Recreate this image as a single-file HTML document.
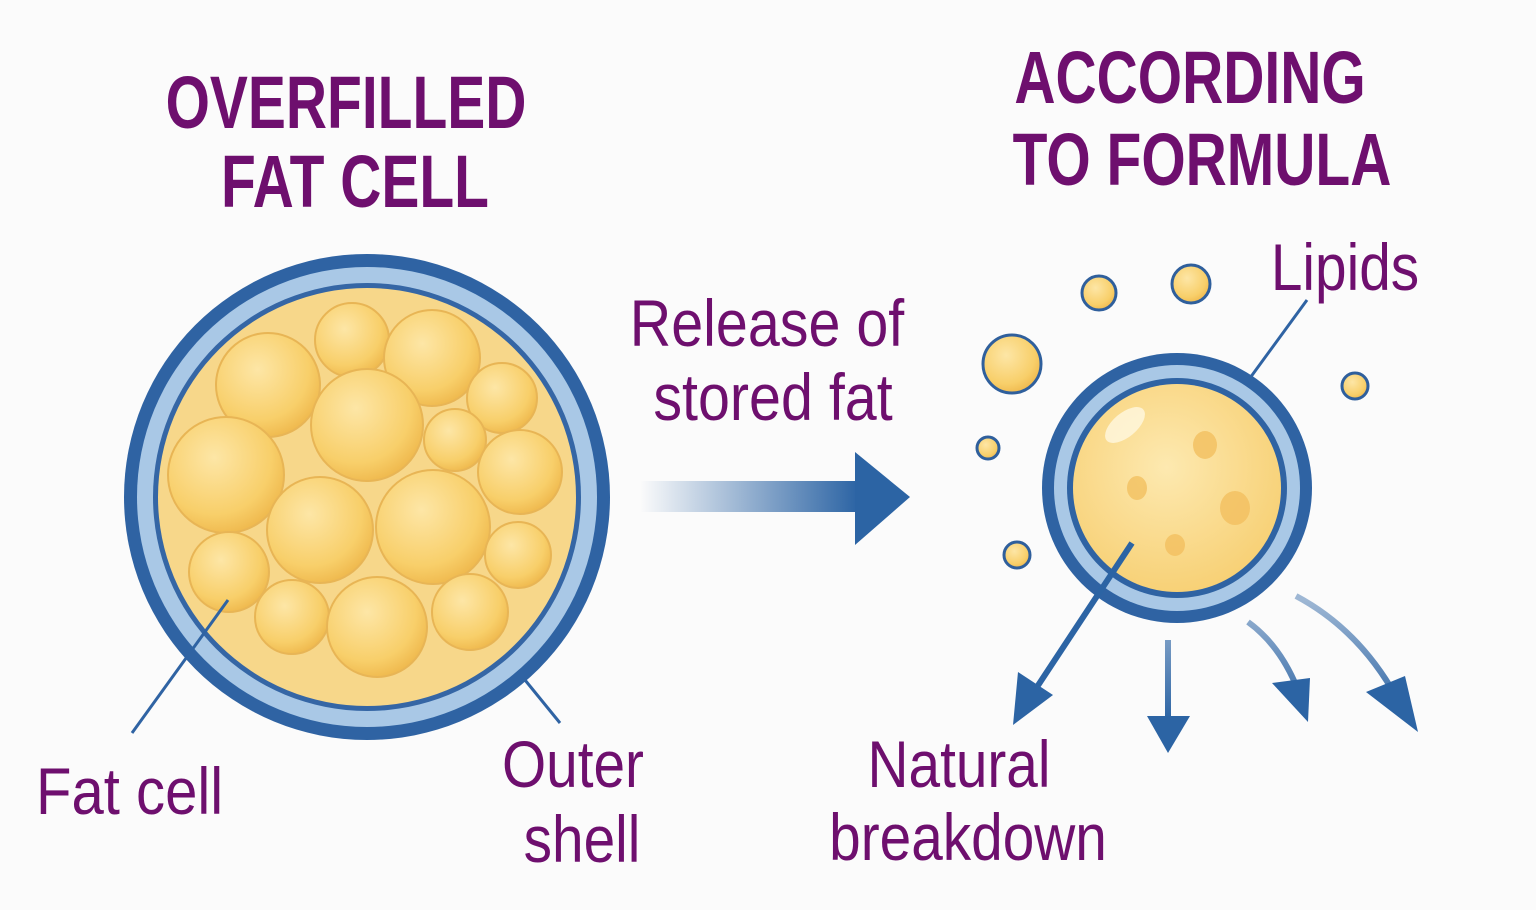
<!DOCTYPE html>
<html><head><meta charset="utf-8"><style>
html,body{margin:0;padding:0;background:#fbfbfb;}
svg{display:block}
text{font-family:"Liberation Sans Narrow","Liberation Sans",sans-serif;fill:#6e0f6e}
</style></head><body>
<svg width="1536" height="910" viewBox="0 0 1536 910" xmlns="http://www.w3.org/2000/svg">
<defs>
<radialGradient id="yb" cx="0.4" cy="0.35" r="0.7">
<stop offset="0" stop-color="#fde6a6"/><stop offset="0.7" stop-color="#f8cf6a"/><stop offset="1" stop-color="#eeb64a"/>
</radialGradient>
<radialGradient id="yc" cx="0.45" cy="0.4" r="0.65">
<stop offset="0" stop-color="#fde9b0"/><stop offset="1" stop-color="#f7cf72"/>
</radialGradient>
<linearGradient id="ar" x1="0" x2="1">
<stop offset="0" stop-color="#2c64a4" stop-opacity="0"/><stop offset="1" stop-color="#2c64a4"/>
</linearGradient>
<linearGradient id="ar2" gradientUnits="userSpaceOnUse" x1="0" y1="600" x2="0" y2="720">
<stop offset="0" stop-color="#2c64a4" stop-opacity="0.45"/><stop offset="1" stop-color="#2c64a4"/>
</linearGradient>
</defs>

<!-- titles -->
<g font-weight="bold" font-size="74" text-anchor="middle">
<text x="346" y="128" transform="translate(346 0) scale(0.77 1) translate(-346 0)">OVERFILLED</text>
<text x="355" y="207" transform="translate(355 0) scale(0.77 1) translate(-355 0)">FAT CELL</text>
<text x="1190" y="103" transform="translate(1190 0) scale(0.77 1) translate(-1190 0)">ACCORDING</text>
<text x="1202" y="185" transform="translate(1202 0) scale(0.77 1) translate(-1202 0)">TO FORMULA</text>
</g>

<!-- big cell -->
<circle cx="367" cy="497" r="243" fill="#2f63a3"/>
<circle cx="367" cy="497" r="230" fill="#a9c8e6"/>
<circle cx="367" cy="497" r="214" fill="#3566a5"/>
<circle cx="367" cy="497" r="209" fill="#f7d78a"/>
<g fill="url(#yb)" stroke="#e8b555" stroke-width="2">
<circle cx="268" cy="385" r="52"/><circle cx="352" cy="340" r="37"/><circle cx="432" cy="358" r="48"/>
<circle cx="502" cy="398" r="35"/><circle cx="455" cy="440" r="31"/><circle cx="367" cy="425" r="56"/>
<circle cx="226" cy="475" r="58"/><circle cx="520" cy="472" r="42"/><circle cx="320" cy="530" r="53"/>
<circle cx="433" cy="527" r="57"/><circle cx="229" cy="572" r="40"/><circle cx="518" cy="555" r="33"/>
<circle cx="292" cy="617" r="37"/><circle cx="377" cy="627" r="50"/><circle cx="470" cy="612" r="38"/>
</g>
<line x1="228" y1="600" x2="132" y2="733" stroke="#2f63a3" stroke-width="3"/>
<line x1="525" y1="680" x2="560" y2="723" stroke="#2f63a3" stroke-width="3"/>

<g font-size="66">
<text x="36" y="814" transform="translate(36 0) scale(0.88 1) translate(-36 0)">Fat cell</text>
<text x="573" y="787" text-anchor="middle" transform="translate(573 0) scale(0.86 1) translate(-573 0)">Outer</text>
<text x="582" y="862" text-anchor="middle" transform="translate(582 0) scale(0.86 1) translate(-582 0)">shell</text>
<text x="767" y="346" text-anchor="middle" transform="translate(767 0) scale(0.87 1) translate(-767 0)">Release of</text>
<text x="773" y="420" text-anchor="middle" transform="translate(773 0) scale(0.87 1) translate(-773 0)">stored fat</text>
<text x="1345" y="290" text-anchor="middle" transform="translate(1345 0) scale(0.86 1) translate(-1345 0)">Lipids</text>
<text x="959" y="787" text-anchor="middle" transform="translate(959 0) scale(0.86 1) translate(-959 0)">Natural</text>
<text x="968" y="860" text-anchor="middle" transform="translate(968 0) scale(0.86 1) translate(-968 0)">breakdown</text>
</g>

<!-- main arrow -->
<rect x="640" y="481" width="218" height="31" fill="url(#ar)"/>
<polygon points="855,452 910,497 855,545" fill="#2c64a4"/>

<!-- small cell -->
<line x1="1307" y1="300" x2="1250" y2="378" stroke="#2f63a3" stroke-width="3"/>
<circle cx="1177" cy="488" r="135" fill="#2f63a3"/>
<circle cx="1177" cy="488" r="123" fill="#a9c8e6"/>
<circle cx="1177" cy="488" r="110" fill="#2f63a3"/>
<circle cx="1177" cy="488" r="104" fill="url(#yc)"/>
<g fill="#f3c060" opacity="0.8">
<ellipse cx="1205" cy="445" rx="12" ry="14"/><ellipse cx="1137" cy="488" rx="10" ry="12"/>
<ellipse cx="1235" cy="508" rx="15" ry="17"/><ellipse cx="1175" cy="545" rx="10" ry="11"/>
</g>
<ellipse cx="1125" cy="425" rx="24" ry="12" fill="#fff7e0" opacity="0.8" transform="rotate(-40 1125 425)"/>

<!-- lipid bubbles -->
<g fill="url(#yb)" stroke="#2f5f9c" stroke-width="3">
<circle cx="1099" cy="293" r="17"/><circle cx="1191" cy="284" r="19"/><circle cx="1012" cy="364" r="29"/>
<circle cx="1355" cy="386" r="13"/><circle cx="988" cy="448" r="11"/><circle cx="1017" cy="555" r="13"/>
</g>

<!-- breakdown arrows -->
<g stroke="#2c64a4" stroke-width="6" fill="none">
<line x1="1132" y1="543" x2="1035" y2="690"/>
<line x1="1168" y1="640" x2="1168" y2="720" stroke="url(#ar2)"/>
<path d="M1248 622 Q1280 645 1298 690" stroke="url(#ar2)"/>
<path d="M1296 596 Q1360 630 1398 700" stroke="url(#ar2)"/>
</g>
<g fill="#2c64a4">
<polygon points="1013,725 1018,672 1053,695"/>
<polygon points="1147,716 1190,716 1168,753"/>
<polygon points="1272,683 1310,678 1308,722"/>
<polygon points="1366,692 1405,676 1418,732"/>
</g>
</svg>
</body></html>
